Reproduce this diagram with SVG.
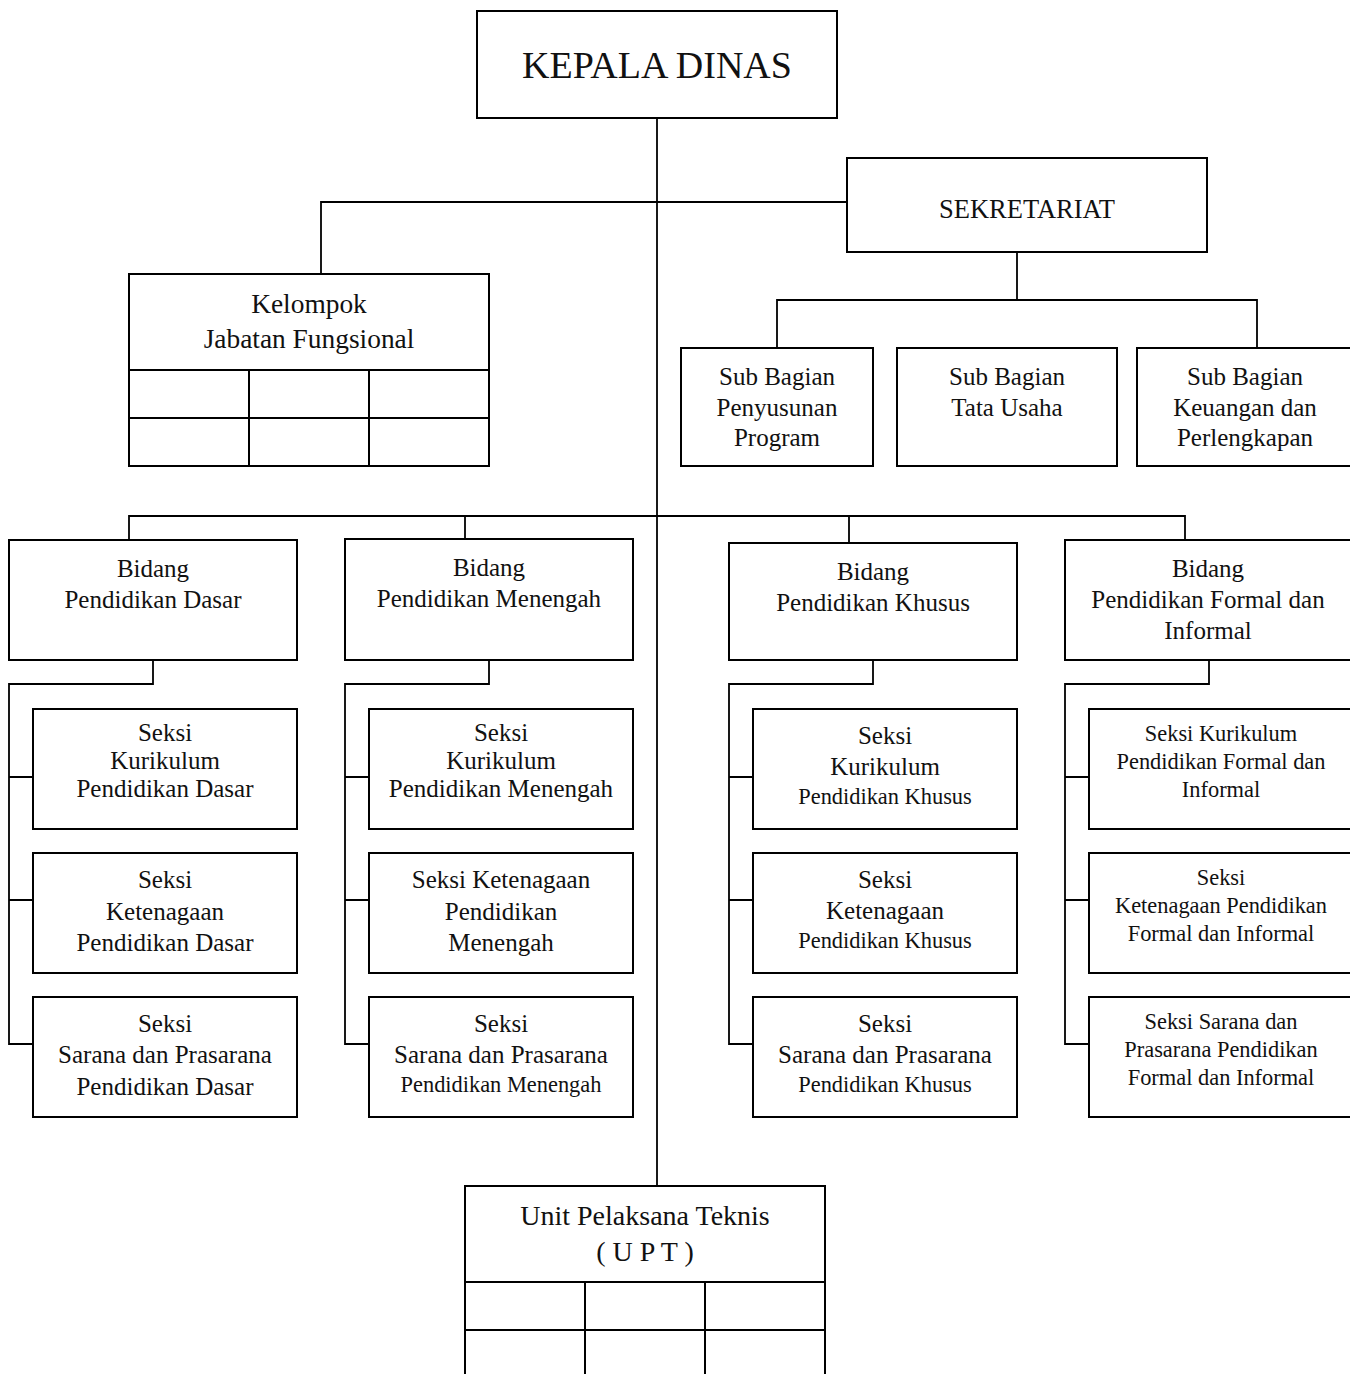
<svg xmlns="http://www.w3.org/2000/svg" width="1350" height="1374" viewBox="0 0 1350 1374" font-family="'Liberation Serif', 'DejaVu Serif', serif">
<style>
rect, .grid { fill: none; stroke: #000; stroke-width: 2; }
rect { fill: #fff; }
.c { fill: none; stroke: #000; stroke-width: 1.8; }
text { font-family: 'Liberation Serif', 'DejaVu Serif', serif; fill: #111; text-anchor: middle; font-size: 25px; }
.s { font-size: 22.4px; }
.l { font-size: 27.4px; }
.u { font-size: 28px; }
</style>
<rect x="0" y="0" width="1350" height="1374" style="stroke:none;fill:#fff"/>
<g id="connectors">
<path class="c" d="M657,118 V1186"/>
<path class="c" d="M321,274 V202 H847"/>
<path class="c" d="M1017,252 V300 M777,348 V300 H1257 V348"/>
<path class="c" d="M129,540 V516 H1185 V540 M465,516 V539 M849,516 V543"/>
<path class="c" d="M153,660 V684 H9 V1044 H33 M9,777 H33 M9,900 H33"/>
<path class="c" d="M489,660 V684 H345 V1044 H369 M345,777 H369 M345,900 H369"/>
<path class="c" d="M873,660 V684 H729 V1044 H753 M729,777 H753 M729,900 H753"/>
<path class="c" d="M1209,660 V684 H1065 V1044 H1089 M1065,777 H1089 M1065,900 H1089"/>
</g>
<g id="kepala-dinas">
<rect x="477" y="11" width="360" height="107"/>
<text x="657" y="78" style="font-size:38px">KEPALA DINAS</text>
</g>
<g id="sekretariat">
<rect x="847" y="158" width="360" height="94"/>
<text x="1027" y="218" style="font-size:26.5px">SEKRETARIAT</text>
</g>
<g id="kelompok-jabatan-fungsional">
<rect x="129" y="274" width="360" height="192"/>
<path class="grid" d="M129,370 H489 M129,418 H489 M249,370 V466 M369,370 V466"/>
<text x="309" y="313" class="l">Kelompok</text>
<text x="309" y="348" class="l">Jabatan Fungsional</text>
</g>
<g id="sub-bagian-penyusunan-program">
<rect x="681" y="348" width="192" height="118"/>
<text x="777" y="385">Sub Bagian</text>
<text x="777" y="416">Penyusunan</text>
<text x="777" y="446">Program</text>
</g>
<g id="sub-bagian-tata-usaha">
<rect x="897" y="348" width="220" height="118"/>
<text x="1007" y="385">Sub Bagian</text>
<text x="1007" y="416">Tata Usaha</text>
</g>
<g id="sub-bagian-keuangan">
<rect x="1137" y="348" width="216" height="118"/>
<text x="1245" y="385">Sub Bagian</text>
<text x="1245" y="416">Keuangan dan</text>
<text x="1245" y="446">Perlengkapan</text>
</g>
<g id="bidang-pendidikan-dasar">
<rect x="9" y="540" width="288" height="120"/>
<text x="153" y="577">Bidang</text>
<text x="153" y="608">Pendidikan Dasar</text>
</g>
<g id="bidang-pendidikan-menengah">
<rect x="345" y="539" width="288" height="121"/>
<text x="489" y="576">Bidang</text>
<text x="489" y="607">Pendidikan Menengah</text>
</g>
<g id="bidang-pendidikan-khusus">
<rect x="729" y="543" width="288" height="117"/>
<text x="873" y="580">Bidang</text>
<text x="873" y="611">Pendidikan Khusus</text>
</g>
<g id="bidang-pendidikan-formal-informal">
<rect x="1065" y="540" width="288" height="120"/>
<text x="1208" y="577">Bidang</text>
<text x="1208" y="608">Pendidikan Formal dan</text>
<text x="1208" y="639">Informal</text>
</g>
<g id="seksi-kurikulum-pd">
<rect x="33" y="709" width="264" height="120"/>
<text x="165" y="741">Seksi</text>
<text x="165" y="769">Kurikulum</text>
<text x="165" y="797">Pendidikan Dasar</text>
</g>
<g id="seksi-ketenagaan-pd">
<rect x="33" y="853" width="264" height="120"/>
<text x="165" y="888">Seksi</text>
<text x="165" y="920">Ketenagaan</text>
<text x="165" y="951">Pendidikan Dasar</text>
</g>
<g id="seksi-sarana-pd">
<rect x="33" y="997" width="264" height="120"/>
<text x="165" y="1032">Seksi</text>
<text x="165" y="1063">Sarana dan Prasarana</text>
<text x="165" y="1095">Pendidikan Dasar</text>
</g>
<g id="seksi-kurikulum-pm">
<rect x="369" y="709" width="264" height="120"/>
<text x="501" y="741">Seksi</text>
<text x="501" y="769">Kurikulum</text>
<text x="501" y="797">Pendidikan Menengah</text>
</g>
<g id="seksi-ketenagaan-pm">
<rect x="369" y="853" width="264" height="120"/>
<text x="501" y="888">Seksi Ketenagaan</text>
<text x="501" y="920">Pendidikan</text>
<text x="501" y="951">Menengah</text>
</g>
<g id="seksi-sarana-pm">
<rect x="369" y="997" width="264" height="120"/>
<text x="501" y="1032">Seksi</text>
<text x="501" y="1063">Sarana dan Prasarana</text>
<text x="501" y="1092" class="s">Pendidikan Menengah</text>
</g>
<g id="seksi-kurikulum-pk">
<rect x="753" y="709" width="264" height="120"/>
<text x="885" y="744">Seksi</text>
<text x="885" y="775">Kurikulum</text>
<text x="885" y="804" class="s">Pendidikan Khusus</text>
</g>
<g id="seksi-ketenagaan-pk">
<rect x="753" y="853" width="264" height="120"/>
<text x="885" y="888">Seksi</text>
<text x="885" y="919">Ketenagaan</text>
<text x="885" y="948" class="s">Pendidikan Khusus</text>
</g>
<g id="seksi-sarana-pk">
<rect x="753" y="997" width="264" height="120"/>
<text x="885" y="1032">Seksi</text>
<text x="885" y="1063">Sarana dan Prasarana</text>
<text x="885" y="1092" class="s">Pendidikan Khusus</text>
</g>
<g id="seksi-kurikulum-pfi">
<rect x="1089" y="709" width="264" height="120"/>
<text x="1221" y="741" class="s">Seksi Kurikulum</text>
<text x="1221" y="769" class="s">Pendidikan Formal dan</text>
<text x="1221" y="797" class="s">Informal</text>
</g>
<g id="seksi-ketenagaan-pfi">
<rect x="1089" y="853" width="264" height="120"/>
<text x="1221" y="885" class="s">Seksi</text>
<text x="1221" y="913" class="s">Ketenagaan Pendidikan</text>
<text x="1221" y="941" class="s">Formal dan Informal</text>
</g>
<g id="seksi-sarana-pfi">
<rect x="1089" y="997" width="264" height="120"/>
<text x="1221" y="1029" class="s">Seksi Sarana dan</text>
<text x="1221" y="1057" class="s">Prasarana Pendidikan</text>
<text x="1221" y="1085" class="s">Formal dan Informal</text>
</g>
<g id="upt">
<rect x="465" y="1186" width="360" height="200"/>
<path class="grid" d="M465,1282 H825 M465,1330 H825 M585,1282 V1380 M705,1282 V1380"/>
<text x="645" y="1225" class="u">Unit Pelaksana Teknis</text>
<text x="645" y="1261" class="u">( U P T )</text>
</g>
</svg>
